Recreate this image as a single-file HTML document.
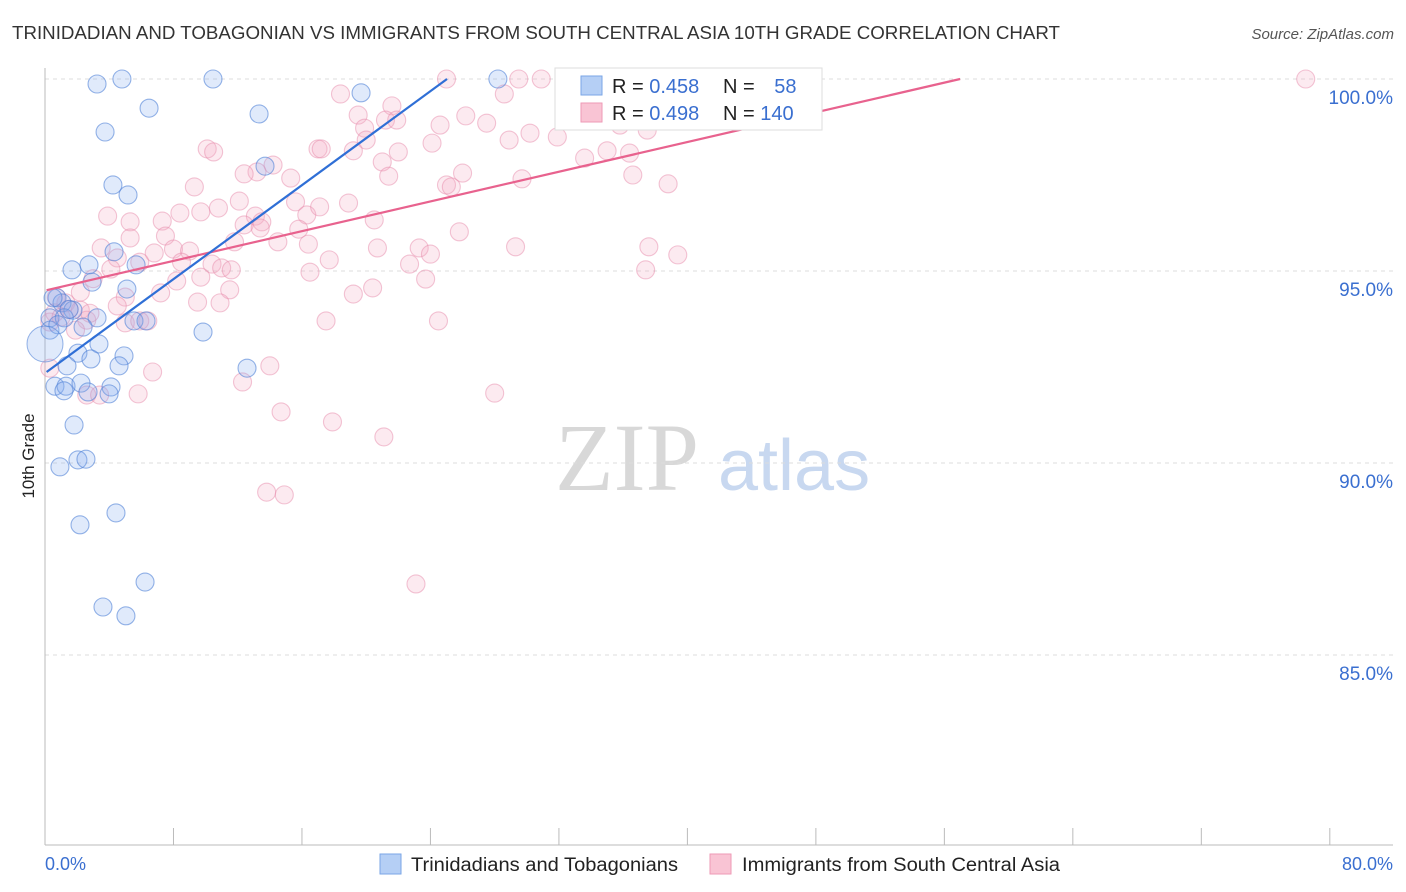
<!DOCTYPE html>
<html><head><meta charset="utf-8"><style>
body{margin:0;background:#fff;font-family:"Liberation Sans",sans-serif}
svg{display:block}
</style></head><body>
<svg width="1406" height="892">
<text x="12" y="39" font-size="18" fill="#333" textLength="1048" lengthAdjust="spacingAndGlyphs">TRINIDADIAN AND TOBAGONIAN VS IMMIGRANTS FROM SOUTH CENTRAL ASIA 10TH GRADE CORRELATION CHART</text>
<text x="1394" y="39" font-size="15" fill="#555" font-style="italic" text-anchor="end">Source: ZipAtlas.com</text>
<text x="555" y="490" font-size="96" fill="#d8d8d8" font-family="Liberation Serif,serif">ZIP</text>
<text x="718" y="490" font-size="72" fill="#c8d8f0">atlas</text>
<g id="grid"></g><g id="axes"></g><g id="pts"></g><g id="lines"></g>
<text transform="translate(34,456) rotate(-90)" font-size="17" fill="#222" text-anchor="middle">10th Grade</text>
<text x="45" y="870" font-size="18" fill="#3a6fd0">0.0%</text>
<text x="1393" y="870" font-size="18" fill="#3a6fd0" text-anchor="end">80.0%</text>
<g>
<rect x="555" y="68" width="267" height="62" fill="#fff" stroke="#ddd"/>
<rect x="581" y="76" width="21" height="19" fill="#b5cff5" stroke="#7aa6e6"/>
<rect x="581" y="103" width="21" height="19" fill="#f9c4d4" stroke="#ee9ab6"/>
<text x="612" y="93" font-size="20" fill="#222">R = <tspan fill="#3a6fd0">0.458</tspan></text>
<text x="723" y="93" font-size="20" fill="#222">N = <tspan fill="#3a6fd0" dx="14">58</tspan></text>
<text x="612" y="120" font-size="20" fill="#222">R = <tspan fill="#3a6fd0">0.498</tspan></text>
<text x="723" y="120" font-size="20" fill="#222">N = <tspan fill="#3a6fd0">140</tspan></text>
</g>
<g>
<rect x="380" y="854" width="21" height="20" fill="#b5cff5" stroke="#7aa6e6"/>
<text x="411" y="871" font-size="19" fill="#222" textLength="267" lengthAdjust="spacingAndGlyphs">Trinidadians and Tobagonians</text>
<rect x="710" y="854" width="21" height="20" fill="#f9c4d4" stroke="#ee9ab6"/>
<text x="742" y="871" font-size="19" fill="#222" textLength="318" lengthAdjust="spacingAndGlyphs">Immigrants from South Central Asia</text>
</g>
</svg>
<script>
const blueX=[3.24,4.79,10.46,6.48,3.74,13.33,19.68,28.2,4.23,5.17,13.7,1.68,2.74,4.3,5.67,2.93,5.1,0.75,1.06,1.74,0.31,0.31,3.24,2.37,5.54,6.29,3.36,2.05,2.86,4.92,4.61,1.37,9.84,12.58,0.62,1.31,1.18,2.24,4.11,2.68,3.99,1.81,0.93,2.05,2.55,2.18,4.42,6.23,3.61,5.04,0.5,1.2,0.8,1.5];
const blueY=[99.87,100,100,99.24,98.62,99.09,99.64,100,97.24,96.98,97.73,95.03,95.16,95.5,95.16,94.71,94.53,94.3,94.17,93.98,93.78,93.46,93.78,93.54,93.7,93.7,93.1,92.86,92.71,92.79,92.53,92.53,93.41,92.47,92.0,92.0,91.88,92.08,91.98,91.85,91.8,90.99,89.9,90.08,90.1,88.39,88.7,86.9,86.25,86.02,94.3,93.78,93.6,94.0];
const pinkX=[25.0,29.5,30.9,32.8,41.5,78.5,18.4,21.6,28.6,33.2,19.5,21.2,24.6,26.2,27.5,30.2,31.9,35.8,37.5,19.9,21.9,20.0,19.2,22.0,17.0,17.2,24.1,28.9,10.1,10.5,33.6,35.0,36.4,21.0,21.4,15.3,14.2,13.2,12.4,9.3,25.0,25.3,26.0,29.7,36.6,38.8,12.1,15.6,10.8,8.4,9.7,5.3,7.3,3.9,13.1,13.5,16.3,17.1,18.9,20.5,15.8,12.4,13.4,14.5,11.8,7.5,5.3,3.5,8.0,9.0,6.8,16.4,20.7,23.3,24.0,25.8,29.3,37.6,39.4,4.5,5.9,4.1,8.5,10.4,11.0,11.6,9.7,17.7,22.7,23.7,16.5,37.4,8.2,7.2,5.0,11.5,10.9,9.5,19.2,20.4,4.5,2.2,1.3,2.2,2.6,1.9,0.3,0.6,5.0,5.9,17.5,24.5,6.7,12.3,14.0,0.3,2.6,3.4,5.8,14.7,17.9,21.1,28.0,13.8,14.9,23.1,6.4,0.7,1.5,3.0,2.8,1.0];
const pinkY=[100,100,100,100,100,100,99.61,99.3,99.61,99.5,99.06,98.93,98.8,99.04,98.85,98.59,98.49,98.8,98.67,98.72,98.93,98.41,98.13,98.1,98.18,98.18,98.33,98.41,98.18,98.1,97.94,98.13,98.07,97.84,97.47,97.42,97.76,97.58,97.53,97.19,97.24,97.19,97.55,97.4,97.5,97.27,96.82,96.8,96.64,96.51,96.54,96.28,96.3,96.43,96.43,96.28,96.46,96.67,96.77,96.33,96.09,96.2,96.12,95.76,95.76,95.91,95.86,95.6,95.57,95.52,95.47,95.7,95.6,95.6,95.44,96.02,95.63,95.63,95.42,95.34,95.23,95.05,95.23,95.18,95.08,95.03,94.84,95.29,95.18,94.79,94.97,95.03,94.74,94.43,94.32,94.51,94.17,94.19,94.4,94.56,94.09,94.45,94.17,93.98,93.72,93.46,93.67,93.91,93.65,93.7,93.7,93.7,92.37,92.11,92.53,92.47,91.77,91.77,91.8,91.33,91.07,90.68,91.82,89.24,89.17,86.85,93.7,94.32,94.0,94.8,93.9,93.8];
const yTicks=[100,95,90,85];
const yTickLabels=["100.0%","95.0%","90.0%","85.0%"];
const xTicks=[0,8,16,24,32,40,48,56,64,72,80];
const blueFit=[92.34,0.306];
const pinkFit=[94.49,0.0967];
const NS='http://www.w3.org/2000/svg';
const X=v=>45+v*16.06, Y=v=>79+(100-v)*38.4;
function mk(tag,parent,attrs){const e=document.createElementNS(NS,tag);for(const k in attrs)e.setAttribute(k,attrs[k]);document.getElementById(parent).appendChild(e);return e;}
yTicks.forEach((t,i)=>{
 const l=mk('line','grid',{x1:45,x2:1393,y1:Y(t),y2:Y(t),stroke:'#ddd','stroke-dasharray':'4,4'});
 
 
 const tx=mk('text','grid',{x:1393,y:Y(t)+25,'font-size':19,fill:'#3a6fd0','text-anchor':'end'});
 tx.textContent=yTickLabels[i];
 
 
});
const ya=mk('line','axes',{x1:45,x2:45,y1:68,y2:845,stroke:'#bbb'});


const xa=mk('line','axes',{x1:45,x2:1393,y1:845,y2:845,stroke:'#bbb'});


xTicks.forEach(t=>{
 const l=mk('line','axes',{x1:X(t),x2:X(t),y1:828,y2:845,stroke:'#bbb'});
 
 
});
pinkX.forEach((x,i)=>{
 const c=mk('circle','pts',{cx:X(x),cy:Y(pinkY[i]),r:9,fill:'rgba(245,170,196,0.25)',stroke:'rgba(232,140,172,0.5)','stroke-width':1.1});
 
 
});
blueX.forEach((x,i)=>{
 const c=mk('circle','pts',{cx:X(x),cy:Y(blueY[i]),r:9,fill:'rgba(130,172,238,0.25)',stroke:'rgba(80,130,215,0.6)','stroke-width':1.1});
 
 
});
const big=mk('circle','pts',{cx:X(0),cy:Y(93.1),r:18,fill:'rgba(130,172,238,0.25)',stroke:'rgba(80,130,215,0.6)'});


function fit(f,col,name){
 const x1=0.1,x2=Math.min(80,(100-f[0])/f[1]);
 const l=mk('line','lines',{x1:X(x1),y1:Y(f[0]+f[1]*x1),x2:X(x2),y2:Y(f[0]+f[1]*x2),stroke:col,'stroke-width':2.2});
 
 
}
fit(pinkFit,'#e8628e','trend-line-south-central-asia');
fit(blueFit,'#2f6fd6','trend-line-trinidadian');
</script>
</body></html>
